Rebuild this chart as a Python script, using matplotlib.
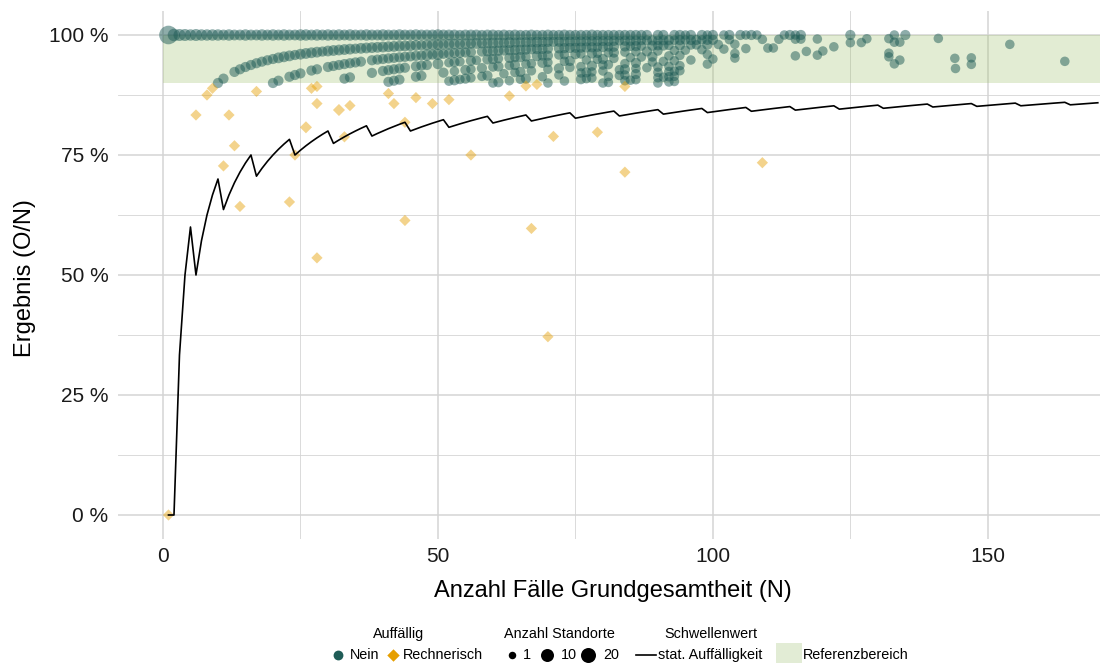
import matplotlib
matplotlib.use("Agg")
import matplotlib.pyplot as plt
from matplotlib.ticker import FuncFormatter
from matplotlib.patches import Rectangle

plt.rcParams['font.family'] = ['Liberation Sans', 'DejaVu Sans']

# Farben
GRUEN = '#1f5c57'
ORANGE = '#e69f00'
BAND = '#9abe64'
GRID = '#d4d4d4'

# --- Daten: Auffällig = Nein, Zeilen nach Anzahl fehlender Fälle (N - O) ---
k0_n = [1, 2, 3, 4, 5, 6, 7, 8, 9, 10,
        11, 12, 13, 14, 15, 16, 17, 18, 19, 20,
        21, 22, 23, 24, 25, 26, 27, 28, 29, 30,
        31, 32, 33, 34, 35, 36, 37, 38, 39, 40,
        41, 42, 43, 44, 45, 46, 47, 48, 49, 50,
        51, 52, 53, 54, 55, 56, 57, 58, 59, 60,
        61, 62, 63, 64, 65, 66, 67, 68, 69, 70,
        71, 72, 73, 74, 75, 76, 77, 78, 79, 80,
        81, 82, 83, 84, 85, 86, 87, 88, 90, 91,
        93, 94, 95, 96, 98, 99, 100, 102, 103, 105,
        106, 107, 108, 113, 114, 115, 116, 125, 133, 135]
k0_c = [20, 6, 5, 5, 4, 5, 4, 4, 4, 4,
        3, 4, 3, 3, 4, 3, 3, 4, 3, 4,
        3, 4, 3, 3, 4, 4, 3, 4, 3, 4,
        3, 4, 3, 4, 3, 3, 4, 3, 3, 4,
        3, 3, 4, 3, 3, 4, 3, 3, 3, 4,
        3, 3, 3, 2, 3, 3, 3, 2, 3, 3,
        2, 3, 2, 3, 2, 2, 3, 2, 2, 3,
        2, 2, 3, 2, 2, 2, 2, 3, 2, 2,
        2, 2, 2, 2, 2, 2, 2, 2, 2, 2,
        2, 2, 1, 2, 2, 1, 2, 1, 2, 2,
        1, 2, 1, 1, 2, 1, 2, 2, 1, 2]

k1_n = [10, 11, 13, 14, 15, 16, 17, 18, 19, 20,
        21, 22, 23, 24, 25, 26, 27, 28, 29, 30,
        31, 32, 33, 34, 35, 36, 37, 38, 39, 40,
        41, 42, 43, 44, 45, 46, 47, 48, 49, 50,
        51, 52, 53, 54, 55, 56, 57, 58, 59, 60,
        61, 62, 63, 64, 65, 66, 67, 68, 69, 70,
        71, 72, 73, 74, 75, 76, 77, 78, 79, 80,
        81, 82, 83, 84, 85, 86, 87, 88, 89, 90,
        91, 92, 93, 94, 95, 96, 97, 98, 99, 100,
        103, 109, 112, 115, 116, 119, 128, 132, 141]
k1_c = [2, 2, 2, 2, 2, 2, 2, 2, 2, 2,
        3, 3, 3, 2, 3, 3, 3, 3, 2, 3,
        3, 3, 3, 3, 2, 3, 3, 3, 3, 3,
        3, 3, 3, 3, 3, 3, 2, 3, 3, 3,
        2, 3, 3, 2, 3, 2, 3, 2, 2, 3,
        2, 2, 3, 2, 2, 2, 2, 3, 2, 2,
        2, 2, 2, 2, 2, 2, 2, 2, 2, 2,
        2, 2, 1, 2, 2, 2, 1, 2, 2, 1,
        2, 2, 1, 2, 1, 2, 2, 1, 2, 2,
        1, 1, 1, 1, 1, 1, 1, 1, 1]

k2_n = [20, 21, 23, 24, 25, 27, 28, 30, 31, 32,
        33, 34, 35, 36, 38, 39, 40, 41, 42, 43,
        44, 45, 46, 47, 48, 49, 50, 51, 52, 53,
        54, 55, 56, 58, 59, 60, 61, 62, 63, 64,
        65, 66, 67, 68, 69, 70, 72, 73, 74, 75,
        76, 77, 78, 79, 80, 81, 82, 84, 85, 86,
        87, 89, 90, 91, 92, 94, 96, 97, 99, 101,
        104, 125, 127, 133, 134]
k2_c = [2, 2, 2, 2, 2, 2, 2, 2, 2, 2,
        2, 2, 2, 2, 2, 2, 2, 2, 2, 2,
        2, 2, 2, 2, 4, 2, 4, 2, 2, 2,
        2, 2, 2, 2, 2, 2, 2, 2, 2, 2,
        2, 2, 2, 2, 2, 2, 2, 2, 2, 2,
        2, 2, 2, 1, 2, 1, 2, 2, 1, 2,
        1, 2, 1, 2, 1, 2, 1, 1, 2, 1,
        1, 1, 1, 1, 1]

k3_n = [33, 34, 38, 40, 41, 42, 43, 44, 46, 47,
        48, 50, 52, 53, 54, 56, 57, 59, 60, 61,
        63, 64, 65, 66, 68, 69, 70, 72, 73, 75,
        76, 78, 79, 81, 82, 84, 86, 88, 90, 93,
        95, 98, 102, 106, 110, 111, 122, 154]
k3_c = [2, 2, 2, 2, 2, 2, 2, 2, 2, 2,
        2, 3, 1, 2, 1, 2, 1, 2, 2, 1,
        2, 1, 2, 1, 2, 1, 2, 1, 1, 2,
        1, 2, 1, 1, 2, 1, 1, 2, 1, 1,
        1, 1, 1, 1, 1, 1, 1, 1]

k4_n = [41, 42, 43, 46, 47, 51, 53, 55, 56, 58,
        60, 61, 63, 64, 66, 67, 69, 70, 73, 74,
        77, 79, 80, 82, 85, 87, 89, 92, 94, 99,
        104, 117, 120]
k4_c = [2, 2, 2, 2, 2, 2, 1, 2, 1, 2,
        1, 2, 1, 2, 1, 1, 2, 1, 1, 2,
        1, 1, 2, 1, 1, 1, 2, 1, 1, 1,
        1, 1, 1]

k5_n = [52, 53, 54, 55, 56, 58, 59, 62, 64, 65,
        67, 70, 72, 74, 76, 78, 80, 81, 84, 86,
        89, 91, 93, 96, 100, 104, 115, 119, 132]
k5_c = [1, 2, 1, 2, 1, 1, 2, 1, 1, 2,
        1, 1, 2, 1, 1, 2, 1, 1, 1, 2,
        1, 1, 1, 1, 1, 1, 1, 1, 1]

k6_n = [60, 61, 63, 65, 66, 69, 72, 76, 77, 78,
        80, 83, 84, 86, 88, 90, 92, 94, 99, 132]
k6_c = [1, 2, 1, 1, 2, 1, 1, 1, 2, 1,
        1, 1, 2, 1, 1, 1, 1, 1, 1, 1]

k7_n = [70, 73, 76, 77, 78, 81, 83, 84, 86, 90,
        92, 93, 94, 134, 144, 147]
k7_c = [1, 1, 2, 1, 1, 1, 1, 1, 2, 1,
        1, 1, 1, 1, 1, 1]

k8_n = [80, 81, 84, 85, 86, 90, 91, 92, 93, 133]
k8_c = [1, 1, 1, 1, 1, 1, 1, 1, 1, 1]

k9_n = [90, 92, 93, 147, 164]
k9_c = [1, 1, 1, 1, 1]

k10_n = [144]
k10_c = [1]

# --- Daten: Auffällig = Rechnerisch ---
rech_n = [1, 6, 8, 9, 11, 12, 13, 14, 17, 23,
          24, 26, 27, 28, 28, 28, 32, 33, 34, 41,
          42, 44, 44, 46, 49, 52, 56, 63, 66, 67,
          68, 70, 71, 79, 84, 84, 109]
rech_o = [0, 5, 7, 8, 8, 10, 10, 9, 15, 15,
          18, 21, 24, 25, 24, 15, 27, 26, 29, 36,
          36, 36, 27, 40, 42, 45, 42, 55, 59, 40,
          61, 26, 56, 63, 75, 60, 80]
rech_c = [1, 1, 1, 1, 1, 1, 1, 1, 1, 1,
          1, 2, 1, 1, 1, 1, 2, 1, 1, 1,
          1, 1, 1, 1, 1, 1, 1, 1, 1, 1,
          1, 1, 1, 1, 1, 1, 1]

# --- Schwellenwert stat. Auffälligkeit: Zähler k je N = 1, 2, ... ---
schwelle_k = [0, 0, 1, 2, 3, 3, 4, 5, 6, 7,
              7, 8, 9, 10, 11, 12, 12, 13, 14, 15,
              16, 17, 18, 18, 19, 20, 21, 22, 23, 24,
              24, 25, 26, 27, 28, 29, 30, 30, 31, 32,
              33, 34, 35, 36, 36, 37, 38, 39, 40, 41,
              42, 42, 43, 44, 45, 46, 47, 48, 49, 49,
              50, 51, 52, 53, 54, 55, 55, 56, 57, 58,
              59, 60, 61, 62, 62, 63, 64, 65, 66, 67,
              68, 69, 69, 70, 71, 72, 73, 74, 75, 76,
              76, 77, 78, 79, 80, 81, 82, 83, 83, 84,
              85, 86, 87, 88, 89, 90, 90, 91, 92, 93,
              94, 95, 96, 97, 97, 98, 99, 100, 101, 102,
              103, 104, 104, 105, 106, 107, 108, 109, 110, 111,
              111, 112, 113, 114, 115, 116, 117, 118, 119, 119,
              120, 121, 122, 123, 124, 125, 126, 126, 127, 128,
              129, 130, 131, 132, 133, 133, 134, 135, 136, 137,
              138, 139, 140, 141, 141, 142, 143, 144, 145, 146]

ref_unten, ref_oben = 90, 100


def groesse(c):
    # Anzahl Standorte -> Punktfläche
    return 40 + 7 * c


fig = plt.figure(figsize=(11, 6.63), dpi=100)
ax = fig.add_axes([118 / 1100, 1 - 539 / 663, 1 - 118 / 1100, 528 / 663])
ax.set_xlim(-8.18, 170.4)
ax.set_ylim(-5, 105)

# Gitter
ax.set_xticks([0, 50, 100, 150])
ax.set_xticks([25, 75, 125], minor=True)
ax.set_yticks([0, 25, 50, 75, 100])
ax.set_yticks([12.5, 37.5, 62.5, 87.5], minor=True)
ax.grid(which='major', color=GRID, lw=1.1)
ax.grid(which='minor', color=GRID, lw=0.6)
ax.set_axisbelow(True)
for s in ax.spines.values():
    s.set_visible(False)
ax.tick_params(which='both', length=0)
ax.tick_params(axis='x', labelsize=15, pad=6, colors='#1a1a1a')
ax.tick_params(axis='y', labelsize=15, pad=7, colors='#1a1a1a')
ax.yaxis.set_major_formatter(FuncFormatter(lambda v, p: f'{v:.0f} %'))

# Referenzbereich
ax.fill_between([0, 200], ref_unten, ref_oben, color=BAND, alpha=0.28, lw=0, zorder=1)

# Punkte Auffällig = Nein
zeilen = [(k0_n, k0_c, 0), (k1_n, k1_c, 1), (k2_n, k2_c, 2), (k3_n, k3_c, 3),
          (k4_n, k4_c, 4), (k5_n, k5_c, 5), (k6_n, k6_c, 6), (k7_n, k7_c, 7),
          (k8_n, k8_c, 8), (k9_n, k9_c, 9), (k10_n, k10_c, 10)]
for ns, cs, fehl in zeilen:
    ys = [100 * (n - fehl) / n for n in ns]
    ax.scatter(ns, ys, s=[groesse(c) for c in cs], color=GRUEN, alpha=0.5,
               lw=0, zorder=2)

# Punkte Auffällig = Rechnerisch
ax.scatter(rech_n, [100 * o / n for o, n in zip(rech_o, rech_n)],
           s=[groesse(c) * 0.7 for c in rech_c], marker='D', color=ORANGE,
           alpha=0.45, lw=0, zorder=3)

# Schwellenwert
schwelle_n = list(range(1, len(schwelle_k) + 1))
ax.plot(schwelle_n, [100 * k / n for k, n in zip(schwelle_k, schwelle_n)],
        color='black', lw=1.2, zorder=4)

# Achsentitel
fig.text(613 / 1100, 1 - 591 / 663, 'Anzahl Fälle Grundgesamtheit (N)',
         ha='center', va='center', fontsize=17)
fig.text(25 / 1100, 1 - 278 / 663, 'Ergebnis (O/N)', ha='center', va='center',
         rotation=90, fontsize=17)

# Legende (Pixelkoordinaten)
lax = fig.add_axes([0, 0, 1, 1])
lax.set_xlim(0, 1100)
lax.set_ylim(663, 0)
lax.axis('off')
fs = 10.4
ty, iy = 634, 655
lax.text(399, ty, 'Auffällig', ha='center', va='center', fontsize=fs)
lax.text(559, ty, 'Anzahl Standorte', ha='center', va='center', fontsize=fs)
lax.text(711, ty, 'Schwellenwert', ha='center', va='center', fontsize=fs)

lax.scatter([338], [iy], s=50, color=GRUEN, lw=0)
lax.text(350, iy, 'Nein', ha='left', va='center', fontsize=fs)
lax.scatter([393], [iy], s=40, marker='D', color=ORANGE, lw=0)
lax.text(403, iy, 'Rechnerisch', ha='left', va='center', fontsize=fs)

for x, d, lab, tx in [(512, 7.5, '1', 523), (547, 13, '10', 561), (588, 15, '20', 603)]:
    lax.scatter([x], [iy], s=(d * 0.72) ** 2, color='black', lw=0)
    lax.text(tx, iy, lab, ha='left', va='center', fontsize=fs)

lax.plot([636, 656], [iy, iy], color='black', lw=1.2)
lax.text(658, iy, 'stat. Auffälligkeit', ha='left', va='center', fontsize=fs)

lax.add_patch(Rectangle((776, 643), 26, 20, color='#e2ecd5', lw=0))
lax.text(803, iy, 'Referenzbereich', ha='left', va='center', fontsize=fs)

fig.savefig('out.png', dpi=100)
plt.close(fig)
